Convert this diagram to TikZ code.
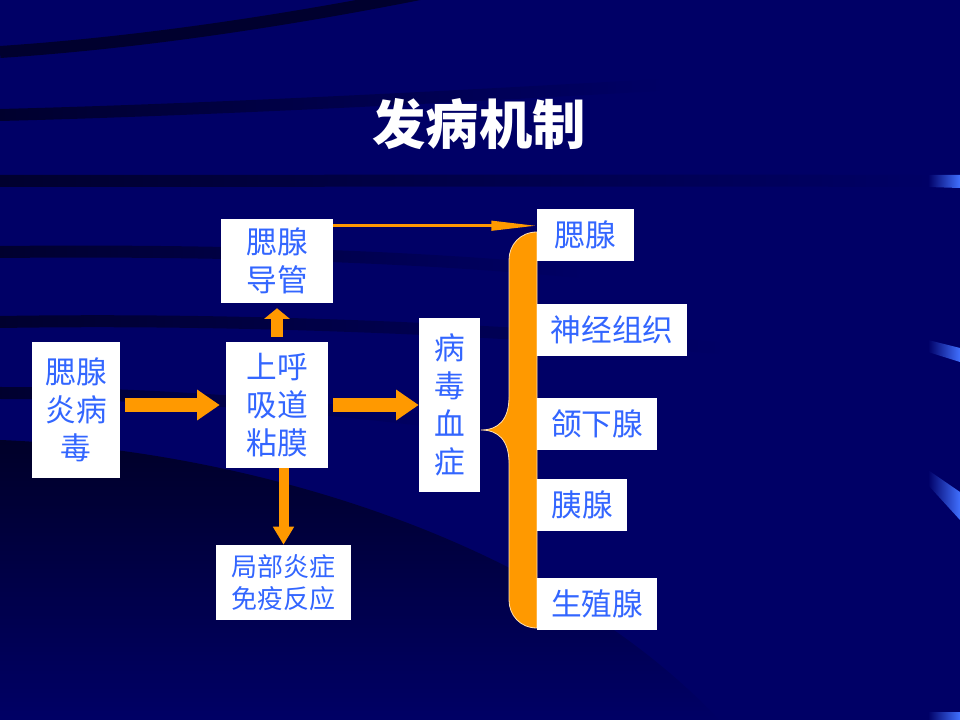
\documentclass[tikz,border=0pt]{standalone}
\usepackage{fontspec}
\newfontfamily\cjk{Noto Sans CJK SC}
\usepackage{xcolor}
\usetikzlibrary{arrows.meta,fadings}
\definecolor{slidebg}{RGB}{0,0,102}
\definecolor{boxblue}{RGB}{51,102,255}
\definecolor{arroworange}{RGB}{255,153,0}
\definecolor{barblue}{RGB}{64,112,255}

\tikzset{
  box/.style={fill=white, inner sep=0pt, text=boxblue, align=center, font=\cjk\fontsize{23}{28.5}\selectfont},
  smallbox/.style={box, font=\cjk\fontsize{19.5}{24}\selectfont},
  band/.style={black, line width=9pt, opacity=0.55},
  fatarrow/.style={arroworange, line width=10pt, -{Triangle[length=17pt,width=22pt]}},
  uparrow/.style={arroworange, line width=9pt, -{Triangle[length=8pt,width=19pt]}},
  downarrow/.style={arroworange, line width=7.5pt, -{Triangle[length=13.5pt,width=15pt]}},
  thinarrow/.style={arroworange, line width=2.25pt, -{Triangle[length=34pt,width=7pt]}}
}

\begin{document}
\begin{tikzpicture}[x=0.75pt,y=-0.75pt]
\useasboundingbox (0,0) rectangle (960,720);
\fill[slidebg] (0,0) rectangle (960,720);

\draw[band] (0,52) .. controls (150,42) and (300,18) .. (430,-8);
\draw[band,path fading=east] (0,115) .. controls (200,110) and (450,97) .. (660,85);
\draw[band,path fading=east] (0,181) .. controls (300,181) and (600,180) .. (930,181);
\draw[band,path fading=east] (0,252) .. controls (200,250) and (400,255) .. (580,272);
\draw[band,path fading=east] (0,322) .. controls (250,318) and (500,330) .. (720,348);
\draw[band,path fading=east] (0,393) .. controls (150,393) and (300,405) .. (440,422);
\fill[black,opacity=0.6,path fading=south] (0,440) .. controls (250,450) and (550,540) .. (720,720) -- (0,720) -- cycle;

\shade[left color=slidebg,right color=barblue] (928,175) -- (960,175) -- (960,188) -- (928,187) -- cycle;
\shade[left color=slidebg,right color=barblue] (928,340) -- (960,348) -- (960,362) -- (928,352) -- cycle;
\shade[left color=slidebg,right color=barblue] (928,470) -- (960,492) -- (960,520) -- (928,485) -- cycle;
\shade[left color=slidebg,right color=barblue] (928,712) -- (960,712) -- (960,720) -- (928,720) -- cycle;

\filldraw[arroworange, draw=white!70!arroworange, line width=0.6pt] (537,232) -- (537,628) .. controls (520,628) and (509,615) .. (509,600) -- (509,463) .. controls (509,440) and (498,430) .. (481,430) .. controls (498,430) and (509,420) .. (509,397) -- (509,260) .. controls (509,245) and (520,232) .. (537,232) -- cycle;

\node[white,font=\cjk\bfseries\fontsize{40}{40}\selectfont] (title) at (479,124) {发病机制};

\node[box,minimum width=66pt,minimum height=102pt] (virus) at (76,410) {腮腺\\炎病\\毒};
\node[box,minimum width=76.5pt,minimum height=94.5pt] (mucosa) at (277,405) {上呼\\吸道\\粘膜};
\node[box,minimum width=84pt,minimum height=63pt] (duct) at (277,261) {腮腺\\导管};
\node[smallbox,minimum width=101.25pt,minimum height=56.25pt] (local) at (283.5,582.5) {局部炎症\\免疫反应};
\node[box,minimum width=45.75pt,minimum height=130.5pt] (viremia) at (449.5,405) {病\\毒\\血\\症};

\node[box,minimum width=72.75pt,minimum height=39pt] (parotid) at (585.5,235) {腮腺};
\node[box,minimum width=112.5pt,minimum height=39pt] (nerve) at (612,330) {神经组织};
\node[box,minimum width=90pt,minimum height=39pt] (submand) at (597,424) {颌下腺};
\node[box,minimum width=67.5pt,minimum height=39pt] (pancreas) at (582,505) {胰腺};
\node[box,minimum width=90pt,minimum height=39pt] (gonad) at (597,604) {生殖腺};

\draw[fatarrow,shorten <=3.75pt,shorten >=4.5pt] (virus.east |- mucosa.west) -- (mucosa.west);
\draw[fatarrow,shorten <=3.75pt] (mucosa.east) -- (viremia.west);
\draw[uparrow,shorten <=3.75pt,shorten >=3.75pt] (mucosa.north) -- (duct.south);
\draw[downarrow] (local.north |- mucosa.south) -- (local.north);
\draw[thinarrow] ([yshift=-5.25pt]duct.north east) -- ([yshift=-12.75pt]parotid.north west);

\end{tikzpicture}
\end{document}
